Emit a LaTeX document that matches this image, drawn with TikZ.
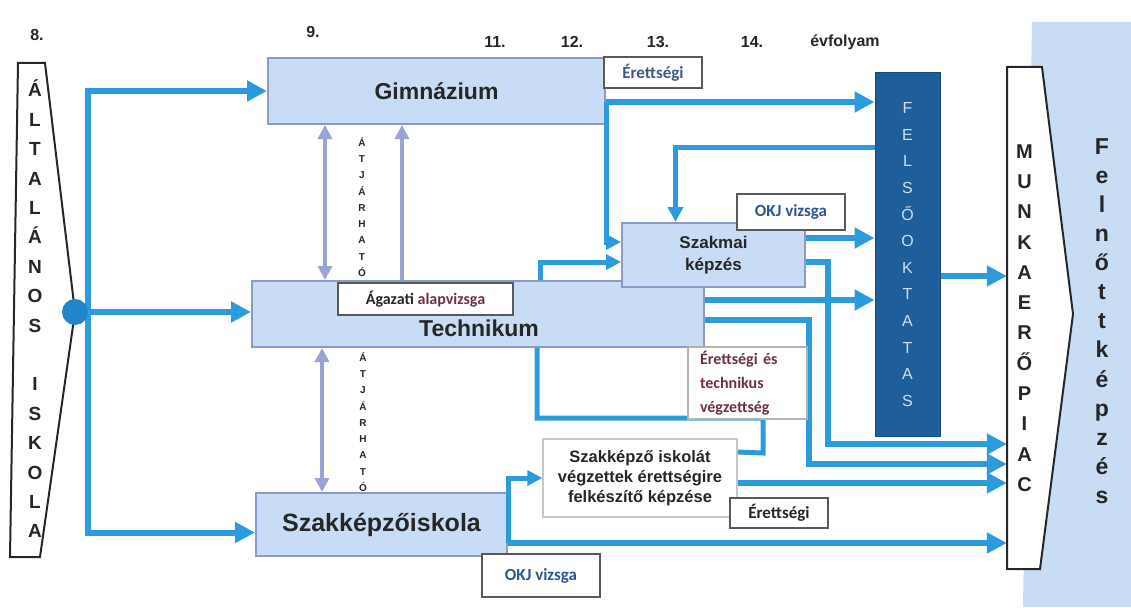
\documentclass[tikz,border=0pt]{standalone}
\usepackage{fontspec}
\setmainfont{Liberation Sans}
\newfontfamily\calib{Carlito}
\usetikzlibrary{arrows.meta}

\definecolor{flowblue}{HTML}{2B9BDE}
\definecolor{hubblue}{HTML}{1F86CC}
\definecolor{boxfill}{HTML}{C8DDF5}
\definecolor{boxdraw}{HTML}{8E9AC6}
\definecolor{passviolet}{HTML}{9AA4D4}
\definecolor{felsofill}{HTML}{1E5E9A}
\definecolor{felsotext}{HTML}{D3DEEA}
\definecolor{okjblue}{HTML}{2E5597}
\definecolor{erettblue}{HTML}{3E5C84}
\definecolor{maroon}{HTML}{6E3046}
\definecolor{bandblue}{HTML}{C8DCF4}
\definecolor{textdark}{HTML}{262626}

\begin{document}
\begin{tikzpicture}[x=1pt,y=-1pt,
  schoolbox/.style={draw=boxdraw, line width=2pt, fill=boxfill, inner sep=0pt, text=textdark, font=\bfseries\fontsize{23}{26}\selectfont},
  tagbox/.style={draw=gray!70!black, line width=1.5pt, fill=white, inner sep=0pt, font=\calib\bfseries\fontsize{17}{20}\selectfont},
  year/.style={text=textdark, font=\bfseries\fontsize{16}{18}\selectfont},
  vletters/.style={align=center, inner sep=0pt, text=textdark},
  flow/.style={draw=flowblue, line width=6pt, -{Triangle[length=20pt,width=20pt]}},
  flowsmall/.style={draw=flowblue, line width=5pt, -{Triangle[length=15pt,width=15pt]}},
  flowline/.style={draw=flowblue, line width=5pt},
  passboth/.style={draw=passviolet, line width=4pt, {Triangle[length=14pt,width=14pt]}-{Triangle[length=14pt,width=14pt]}},
  passup/.style={draw=passviolet, line width=4pt, -{Triangle[length=14pt,width=14pt]}}]
  \useasboundingbox (0,0) rectangle (1131,607);

  % felnottkepzes band
  \fill[bandblue] (1032,22) -- (1131,22) -- (1131,607) -- (1023,607) -- cycle;

  % year labels
  \node[year] (y8) at (37,35) {8.};
  \node[year] (y9) at (313,32) {9.};
  \node[year] (y11) at (495,42) {11.};
  \node[year] (y12) at (572,42) {12.};
  \node[year] (y13) at (658,42) {13.};
  \node[year] (y14) at (752,42) {14.};
  \node[year] (yevf) at (845,42) {évfolyam};

  % altalanos iskola
  \draw[line width=2pt, draw=textdark, fill=white] (18,63) -- (45,63) -- (75,312) -- (40,557) -- (10,557) -- cycle;
  \node[vletters, font=\bfseries\fontsize{19}{29.4}\selectfont] (alt) at (35,309)
    {Á\\L\\T\\A\\L\\Á\\N\\O\\S\\ \\I\\S\\K\\O\\L\\A};

  % schools
  \node[schoolbox, minimum width=337, minimum height=66] (gimn) at (436.5,91) {Gimnázium};
  \node[schoolbox, minimum width=452, minimum height=66] (techn) at (478,314) {};
  \node[text=textdark, font=\bfseries\fontsize{23}{26}\selectfont] (techn-lbl) at (479,328) {Technikum};
  \node[schoolbox, minimum width=251, minimum height=63, font=\bfseries\fontsize{25}{28}\selectfont] (szakk) at (381.5,524.5) {Szakképzőiskola};
  \node[schoolbox, minimum width=183, minimum height=64, align=center, font=\bfseries\fontsize{17}{22}\selectfont] (szakmai) at (713.5,255) {Szakmai\\képzés};

  % felsooktatas
  \node[fill=felsofill, draw=felsofill!80!black, line width=1pt, minimum width=65, minimum height=363, inner sep=0pt,
    align=center, text=felsotext, font=\fontsize{16}{26.6}\selectfont] (felso) at (907.5,254.5)
    {F\\E\\L\\S\\Ő\\O\\K\\T\\A\\T\\A\\S};

  % munkaeropiac
  \draw[line width=2pt, draw=textdark, fill=white] (1007,67) -- (1042,67) -- (1073,314) -- (1040,569) -- (1007,569) -- cycle;
  \node[vletters, minimum width=35, minimum height=502, font=\bfseries\fontsize{20}{30.3}\selectfont] (munka) at (1024.5,318)
    {M\\U\\N\\K\\A\\E\\R\\Ő\\P\\I\\A\\C};
  \node[vletters, font=\bfseries\fontsize{23}{29.1}\selectfont] (felnott) at (1102,321)
    {F\\e\\l\\n\\ő\\t\\t\\k\\é\\p\\z\\é\\s};

  % flows from the hub
  \draw[flow] (75,312) -- (88,312) |- (gimn.west);
  \draw[flow] (75,312) -- (88,312) |- ([yshift=-8pt]szakk.west);
  \draw[flow] (75,312) -- (techn.west |- 0,312);
  \node[circle, fill=hubblue, minimum size=26, inner sep=0pt] (hub) at (75,312) {};

  % gimnazium
  \draw[flow] ([yshift=-11pt]gimn.east) -- ([yshift=-11pt]gimn.east -| felso.west);
  \draw[flowsmall] ([yshift=-11pt]gimn.east) |- ([yshift=13pt]szakmai.west);
  \draw[flowsmall] (felso.west |- 0,147) -| ([xshift=-38pt]szakmai.north);

  % technikum
  \draw[flowsmall] (techn.north -| 540,0) |- ([yshift=-7pt]szakmai.west);
  \draw[flow] ([yshift=14pt]techn.east) -- ([yshift=14pt]techn.east -| felso.west);
  \draw[flow] ([yshift=-6pt]techn.east) -- ++(104,0) |- (munka.west |- 0,464);

  % szakmai kepzes
  \draw[flow] ([yshift=17pt]szakmai.east) -- ([yshift=17pt]szakmai.east -| felso.west);
  \draw[flow] ([yshift=-7pt]szakmai.east) -- ++(22,0) |- (munka.west |- 0,444);
  \draw[flow] (felso.east |- 0,276) -- (munka.west |- 0,276);

  % erettsegire felkeszito
  \node[tagbox, draw=gray!45, align=center, minimum width=194, minimum height=78, text=textdark,
    font=\bfseries\fontsize{16.5}{20}\selectfont] (szkisk) at (640,478)
    {Szakképző iskolát\\végzettek érettségire\\felkészítő képzése};
  \draw[flowline] (techn.south -| 537,0) -- ++(0,70) -- ++(226,0) -- ++(0,35) -- ([yshift=26pt]szkisk.east);
  \draw[flowsmall] ([yshift=-18.5pt]szakk.east) |- (szkisk.west);
  \draw[flow] ([yshift=-18.5pt]szakk.east) -- (munka.west |- 0,543);
  \draw[flow] ([yshift=-5pt]szkisk.east) -- (munka.west |- 0,483);

  % atjarhato
  \draw[passboth] (gimn.south -| 325,0) -- (techn.north -| 325,0);
  \draw[passup] (techn.north -| 402,0) -- (gimn.south -| 402,0);
  \draw[passboth] (techn.south -| 322,0) -- (szakk.north -| 322,0);
  \node[vletters, font=\bfseries\fontsize{10}{16.25}\selectfont] (atj1) at (362,207) {Á\\T\\J\\Á\\R\\H\\A\\T\\Ó};
  \node[vletters, font=\bfseries\fontsize{10}{16.25}\selectfont] (atj2) at (363,422) {Á\\T\\J\\Á\\R\\H\\A\\T\\Ó};

  % vizsga labels
  \node[tagbox, minimum width=98, minimum height=31, text=erettblue] (erett1) at (653,72.5) {Érettségi};
  \node[tagbox, minimum width=108, minimum height=36, text=okjblue] (okj1) at (791,212) {OKJ vizsga};
  \node[tagbox, minimum width=175, minimum height=32, font=\calib\bfseries\fontsize{16}{19}\selectfont] (agazati) at (425.5,299)
    {\textcolor{textdark}{Ágazati} \textcolor{maroon}{alapvizsga}};
  \node[tagbox, draw=gray!60, minimum height=72, text width=95pt, inner xsep=12pt, align=left, text=maroon,
    font=\calib\bfseries\fontsize{16}{24}\selectfont] (erettech) at (747.5,383)
    {Érettségi és\\technikus\\végzettség};
  \node[tagbox, minimum width=98, minimum height=30, text=textdark] (erett2) at (779,513) {Érettségi};
  \node[tagbox, minimum width=118, minimum height=43, text=okjblue] (okj2) at (541,575.5) {OKJ vizsga};
\end{tikzpicture}
\end{document}
